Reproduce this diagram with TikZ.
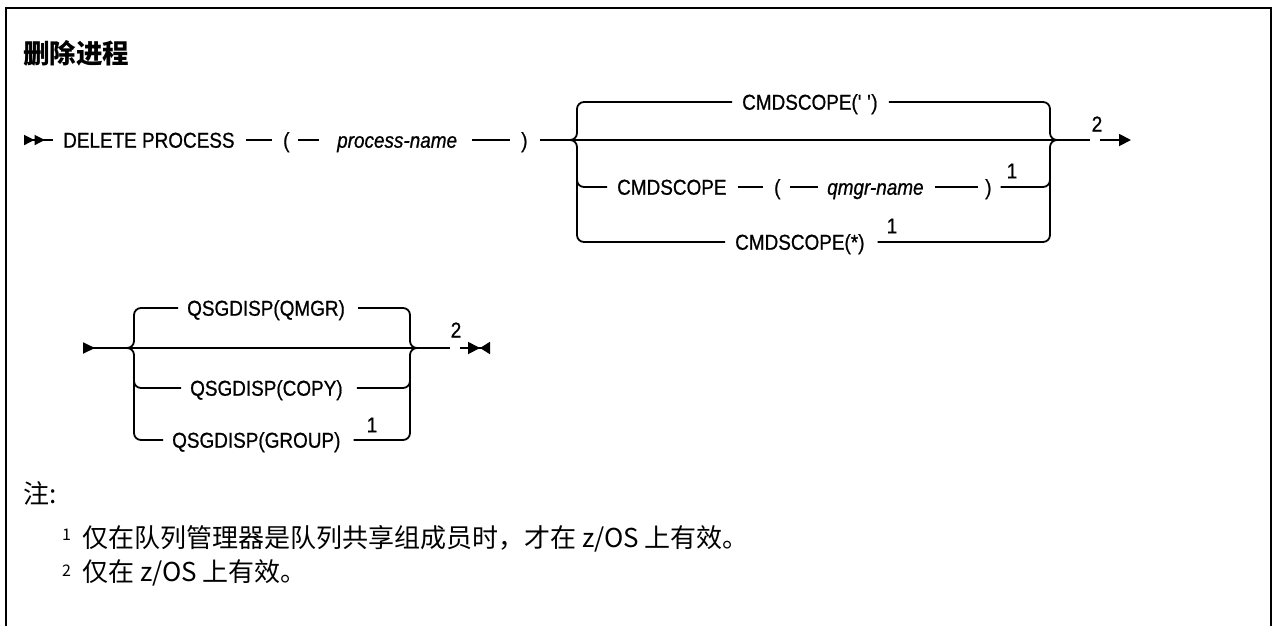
\documentclass[tikz,border=0pt]{standalone}
\usepackage{fontspec}
\setmainfont{Liberation Sans}
\newfontfamily\railfont[FakeStretch=0.88, FakeBold=0.8]{Liberation Sans}
\newfontfamily\cjk{Noto Sans CJK SC}
\usetikzlibrary{arrows.meta}

\begin{document}
\begin{tikzpicture}[x=1pt, y=-1pt,
  every node/.style={inner sep=0pt, anchor=west},
  kw/.style={font=\railfont\fontsize{21.5}{25}\selectfont, text height=15.4pt, text depth=0pt},
  var/.style={kw, font=\railfont\fontsize{21.5}{25}\selectfont\itshape},
  note/.style={font=\railfont\fontsize{21.5}{25}\selectfont, anchor=center},
  txt/.style={font=\cjk\fontsize{26}{30}\selectfont},
  fnmark/.style={font=\cjk\fontsize{16}{18}\selectfont, anchor=base west},
  rail/.style={line width=1.8pt},
  seg/.style={rail, shorten <=11pt, shorten >=11pt},
  fork/.style={rail, rounded corners=7pt}
]
  \useasboundingbox (0,0) rectangle (1273,625);
  \draw[line width=2.2pt] (6,660) -- (6,8) -- (1271,8) -- (1271,660);

  \node[txt, font=\cjk\bfseries\fontsize{26.5}{30}\selectfont] (title) at (23,53) {删除进程};

  % first line
  \coordinate (s1) at (24,140);
  \node[kw]  (dp)  at (63,140)  {DELETE PROCESS};
  \node[kw]  (lp1) at (283,140) {(};
  \node[var] (pn)  at (337,140) {process-name};
  \node[kw]  (rp1) at (521,140) {)};
  \coordinate (j1l) at (570,140);
  \coordinate (j1r) at (1057,140);

  \node[kw]  (cq)  at (742,102) {CMDSCOPE(\textquotesingle\ \textquotesingle)};
  \node[kw]  (cn)  at (617,187) {CMDSCOPE};
  \node[kw]  (lp2) at (774,187) {(};
  \node[var] (qn)  at (827,187) {qmgr-name};
  \node[kw]  (rp2) at (985,187) {)};
  \node[note] (n1a) at (1012,171) {1};
  \node[kw]  (ca)  at (735,242) {CMDSCOPE(*)};
  \node[note] (n1b) at (892,226) {1};

  \node[note] (f2a) at (1097,124) {2};
  \coordinate (e1a) at (1090,140);
  \coordinate (e1b) at (1100,140);
  \coordinate (e1c) at (1131,140);

  \draw[rail, {Triangle[reversed, length=10.5pt, width=10pt]Triangle[reversed, length=10.5pt, width=10pt]}-, shorten >=10pt] (s1) -- (dp);
  \draw[seg] (dp) -- (lp1);
  \draw[seg, shorten <=8pt, shorten >=18pt] (lp1) -- (pn);
  \draw[seg, shorten <=15pt] (pn) -- (rp1);
  \draw[rail, shorten <=12pt] (rp1) -- (j1l);

  \draw[fork, shorten >=10pt] (j1l) -- (577,140) -- (577,102) -- (cq);
  \draw[fork, shorten >=10pt] (577,170) -- (577,187) -- (cn);
  \draw[fork, shorten >=10pt] (j1l) -- (577,140) -- (577,242) -- (ca);
  \draw[rail] (j1l) -- (j1r);
  \draw[seg] (cn) -- (lp2);
  \draw[seg, shorten <=9pt, shorten >=9pt] (lp2) -- (qn);
  \draw[seg, shorten >=7pt] (qn) -- (rp2);
  \draw[fork, shorten <=11pt] (cq) -- (1050,102) -- (1050,140) -- (j1r);
  \draw[fork, shorten <=9pt] (rp2) -- (1050,187) -- (1050,170);
  \draw[fork, shorten <=13pt] (ca) -- (1050,242) -- (1050,140) -- (j1r);

  \draw[rail] (j1r) -- (e1a);
  \draw[rail, -{Triangle[length=12pt, width=12pt]}] (e1b) -- (e1c);

  % second line
  \coordinate (s2) at (83,348);
  \coordinate (j2l) at (127,348);
  \coordinate (j2r) at (417,348);
  \node[kw] (qm) at (187,308) {QSGDISP(QMGR)};
  \node[kw] (qc) at (190,388) {QSGDISP(COPY)};
  \node[kw] (qg) at (172,440) {QSGDISP(GROUP)};
  \node[note] (n1c) at (372,425) {1};
  \node[note] (f2b) at (456,330) {2};
  \coordinate (e2a) at (450,348);
  \coordinate (e2b) at (460,348);
  \coordinate (e2c) at (490,348);

  \draw[rail, {Triangle[reversed, length=12pt, width=11pt]}-] (s2) -- (j2l);
  \draw[fork, shorten >=9pt] (j2l) -- (134,348) -- (134,308) -- (qm);
  \draw[fork, shorten >=9pt] (134,372) -- (134,388) -- (qc);
  \draw[fork, shorten >=9pt] (j2l) -- (134,348) -- (134,440) -- (qg);
  \draw[rail] (j2l) -- (j2r);
  \draw[fork, shorten <=13pt] (qm) -- (410,308) -- (410,348) -- (j2r);
  \draw[fork, shorten <=14pt] (qc) -- (410,388) -- (410,372);
  \draw[fork, shorten <=13pt] (qg) -- (410,440) -- (410,348) -- (j2r);
  \draw[rail] (j2r) -- (e2a);
  \draw[rail, -{Triangle[length=12pt, width=12pt]Triangle[reversed, length=10pt, width=12pt]}] (e2b) -- (e2c);

  % notes
  \node[txt] (zhu) at (23,493) {注:};
  \node[fnmark] (m1) at (62,540) {1};
  \node[txt] (fn1) at (82,539) {仅在队列管理器是队列共享组成员时，才在 z/OS 上有效。};
  \node[fnmark] (m2) at (62,576) {2};
  \node[txt] (fn2) at (82,573) {仅在 z/OS 上有效。};
\end{tikzpicture}
\end{document}
